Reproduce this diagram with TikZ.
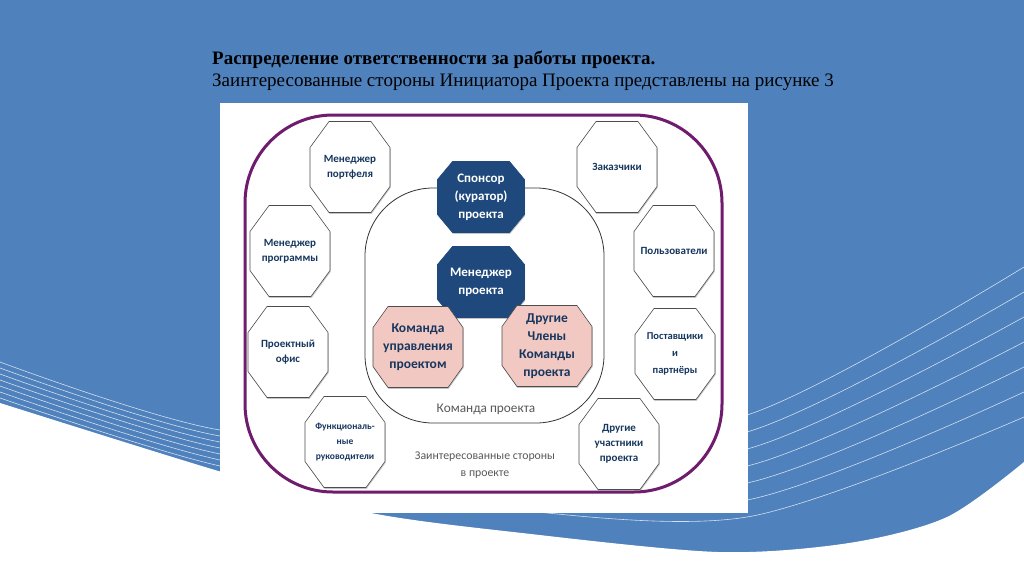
\documentclass[tikz,border=0pt]{standalone}
\usepackage{fontspec}
\setmainfont{Liberation Serif}
\newfontfamily\calibri{Carlito}
\usetikzlibrary{shadows}

\definecolor{slideblue}{RGB}{79,129,189}
\definecolor{navyfill}{RGB}{31,73,125}
\definecolor{navytext}{RGB}{23,55,94}
\definecolor{pinkfill}{RGB}{242,200,194}
\definecolor{rimpurple}{RGB}{112,28,110}
\definecolor{labelgrey}{RGB}{89,89,89}

\pgfdeclarelayer{slide}
\pgfdeclarelayer{octagons}
\pgfsetlayers{slide,octagons,main}

\tikzset{
  octo/.style={rectangle, minimum width=80pt, minimum height=91pt,
    inner sep=0pt, outer sep=0pt, align=center, text=navytext,
    font=\calibri\bfseries\fontsize{11}{15}\selectfont},
  keyocto/.style={octo, minimum width=87pt, minimum height=71pt, text=white,
    font=\calibri\bfseries\fontsize{13}{18}\selectfont},
  teamocto/.style={octo, minimum width=90pt, minimum height=81pt,
    font=\calibri\bfseries\fontsize{13.5}{18}\selectfont},
  octoline/.style={draw=black!70, fill=white, line width=0.6pt,
    drop shadow={shadow xshift=0.6pt, shadow yshift=-1.4pt, opacity=0.45}},
  greylabel/.style={text=labelgrey, align=center,
    font=\calibri\fontsize{11.8}{17}\selectfont},
}

% octagon round a node: style, node, x cut, y cut
\newcommand{\octoaround}[4][]{%
  \filldraw[octoline,#1] ([xshift=#3]#2.north west) -- ([xshift=-#3]#2.north east)
    -- ([yshift=-#4]#2.north east) -- ([yshift=#4]#2.south east)
    -- ([xshift=-#3]#2.south east) -- ([xshift=#3]#2.south west)
    -- ([yshift=#4]#2.south west) -- ([yshift=-#4]#2.north west) -- cycle;}

\begin{document}
\begin{tikzpicture}[x=1pt,y=-1pt]
  \useasboundingbox (0,0) rectangle (1024,576);
  \clip (0,0) rectangle (1024,576);
  \begin{pgfonlayer}{slide}
  %%%%%%%%%%%%%background of the slide%%%%%%%%%%%%%%%%%%%%%%
  \fill[slideblue] (0,0) rectangle (1024,576);
  \fill[white] plot[smooth] coordinates {(0,403) (215,470) (366,512)
    (522,533) (718,552) (849,543) (947,517) (1024,462)}
    -- (1024,576) -- (0,576) -- cycle;
  \foreach \k in {0,...,6}
    \draw[white, line width=0.6pt, opacity=0.75] plot[smooth] coordinates
      {(0,398-6*\k) (220,466-6*\k) (480,506-11*\k) (747,517-17*\k) (1024,417-25*\k)};

  %%%%%%%%%%%%%the figure%%%%%%%%%%%%%%%%%%%%%%
  \fill[white] (220,103) rectangle (748,513);
  \draw[rimpurple, line width=3pt, rounded corners=88pt] (245,115) rectangle (722,492);
  \draw[black!80, line width=0.8pt, rounded corners=68pt] (365,188) rectangle (604,423);
  \end{pgfonlayer}

  %%%%%%%%%%%%%title%%%%%%%%%%%%%%%%%%%%%%
  \node[anchor=base west, inner sep=0pt, font=\bfseries\fontsize{19}{23}\selectfont]
    (title) at (212,64) {Распределение ответственности за работы проекта.};
  \node[anchor=base west, inner sep=0pt, font=\fontsize{19}{23}\selectfont]
    (subtitle) at (212,86) {Заинтересованные стороны Инициатора Проекта представлены на рисунке 3};

  \node[greylabel, font=\calibri\fontsize{13.3}{17}\selectfont] (teamlabel) at (486,409) {Команда проекта};
  \node[greylabel] (stakelabel) at (485,465) {Заинтересованные стороны\\в проекте};

  % stakeholders round the team
  \node[octo] (portfolio) at (350,167) {Менеджер\\портфеля};
  \node[octo] (programme) at (290,251) {Менеджер\\программы};
  \node[octo] (office) at (288,352) {Проектный\\офис};
  \node[octo, font=\calibri\bfseries\fontsize{9.5}{15}\selectfont] (functional) at (345,442) {Функциональ-\\ные\\руководители};
  \node[octo] (customers) at (617,167) {Заказчики};
  \node[octo] (users) at (674,251) {Пользователи};
  \node[octo, font=\calibri\bfseries\fontsize{10.5}{17}\selectfont] (suppliers) at (675,354) {Поставщики\\и\\партнёры};
  \node[octo] (others) at (619,444) {Другие\\участники\\проекта};

  % the team itself
  \node[keyocto] (sponsor) at (481,197) {Спонсор\\(куратор)\\проекта};
  \node[keyocto] (manager) at (481,282) {Менеджер\\проекта};
  \node[teamocto] (mgmtteam) at (418,347) {Команда\\управления\\проектом};
  \node[teamocto] (members) at (547,346) {Другие\\Члены\\Команды\\проекта};

  \begin{pgfonlayer}{octagons}
  \foreach \n in {portfolio,programme,office,functional,customers,users,suppliers,others}
    \octoaround{\n}{19pt}{26pt};
  \foreach \n in {sponsor,manager}
    \octoaround[draw=navyfill, fill=navyfill]{\n}{15pt}{18pt};
  \foreach \n in {mgmtteam,members}
    \octoaround[fill=pinkfill]{\n}{15pt}{21pt};
  \end{pgfonlayer}
\end{tikzpicture}
\end{document}
